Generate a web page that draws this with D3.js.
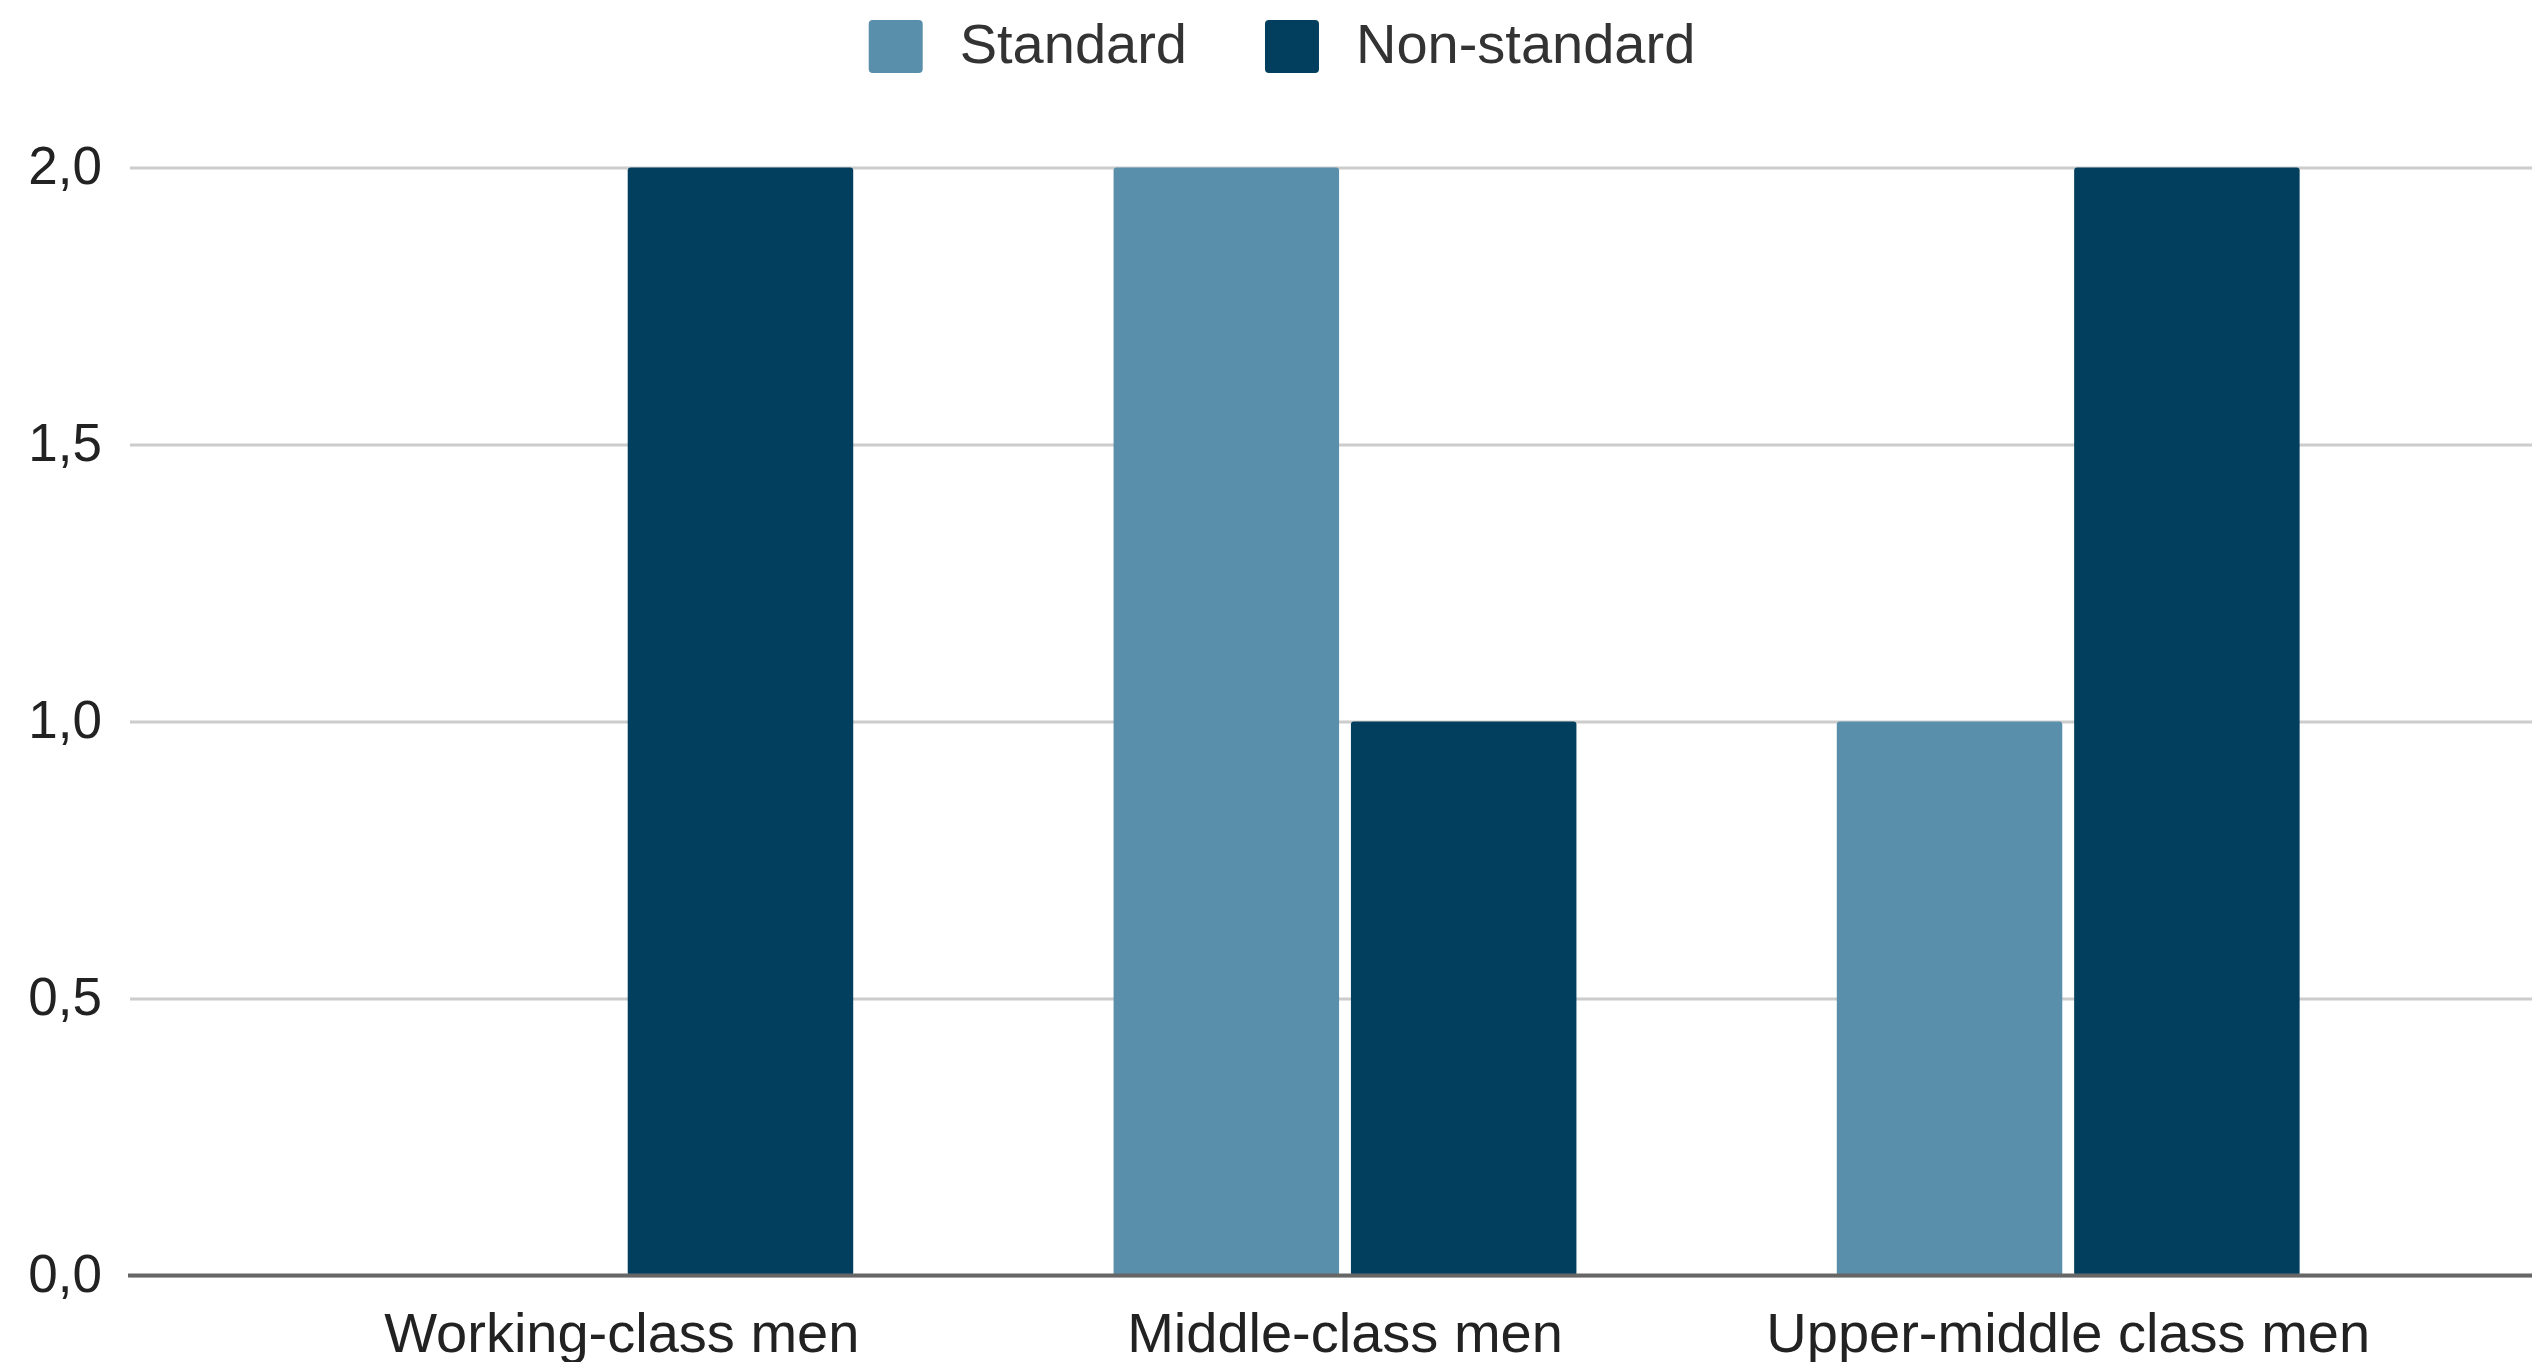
<!DOCTYPE html>
<html>
<head>
<meta charset="utf-8">
<script src="https://cdn.jsdelivr.net/npm/d3@7"></script>
<style>
  html, body { margin: 0; padding: 0; background: #ffffff; }
  svg { display: block; }
  text { font-family: "Liberation Sans", Arial, sans-serif; }
</style>
</head>
<body>
<svg id="chart" width="2532" height="1362"></svg>
<script>
// Social class groups on the x axis
const categories = ["Working-class men", "Middle-class men", "Upper-middle class men"];
// Series names and colours
const seriesNames = ["Standard", "Non-standard"];
const seriesColors = ["#5a8fac", "#023f5e"];
// Counts per group
const standardValues = [0, 2, 1];
const nonStandardValues = [2, 1, 2];
// Y axis ticks
const yTicks = [0, 0.5, 1.0, 1.5, 2.0];

const W = 2532, H = 1362;
const margin = { left: 130, right: -28, top: 167.5, bottom: 86 };

const svg = d3.select("#chart");
svg.append("rect").attr("width", W).attr("height", H).attr("fill", "#ffffff");

const rows = categories.map((c, i) => ({
  category: c,
  values: [
    { series: seriesNames[0], value: standardValues[i] },
    { series: seriesNames[1], value: nonStandardValues[i] }
  ]
}));

const x0 = d3.scaleBand()
  .domain(categories)
  .range([margin.left, W - margin.right])
  .padding(0.36);

const x1 = d3.scaleBand()
  .domain(seriesNames)
  .range([0, x0.bandwidth()])
  .paddingInner(0.05)
  .paddingOuter(0);

const y = d3.scaleLinear()
  .domain([0, 2])
  .range([H - margin.bottom - 0.5, margin.top]);

const color = d3.scaleOrdinal().domain(seriesNames).range(seriesColors);

// Horizontal gridlines
const yAxis = d3.axisLeft(y)
  .tickValues(yTicks)
  .tickSize(-(W - margin.left))
  .tickPadding(28)
  .tickFormat(d => d3.format(".1f")(d).replace(".", ","));

const gy = svg.append("g")
  .attr("transform", `translate(${margin.left},0)`)
  .call(yAxis);
gy.select(".domain").remove();
gy.selectAll(".tick line")
  .attr("stroke", "#cccccc")
  .attr("stroke-width", 3);
gy.selectAll(".tick text")
  .attr("fill", "#222222")
  .attr("font-size", 53)
  .attr("dy", "0.30em");

// Bars
const groups = svg.append("g")
  .selectAll("g")
  .data(rows)
  .join("g")
  .attr("transform", d => `translate(${x0(d.category)},0)`);

groups.selectAll("rect")
  .data(d => d.values.filter(v => v.value > 0))
  .join("rect")
  .attr("x", d => x1(d.series))
  .attr("y", d => y(d.value))
  .attr("width", x1.bandwidth())
  .attr("height", d => y(0) - y(d.value))
  .attr("rx", 3)
  .attr("fill", d => color(d.series));

// Baseline
svg.append("line")
  .attr("x1", margin.left - 2)
  .attr("x2", W)
  .attr("y1", y(0))
  .attr("y2", y(0))
  .attr("stroke", "#666666")
  .attr("stroke-width", 4);

// Category labels
const xAxis = d3.axisBottom(x0).tickSize(0).tickPadding(0);
const gx = svg.append("g")
  .attr("transform", `translate(0,${y(0)})`)
  .call(xAxis);
gx.select(".domain").remove();
gx.selectAll(".tick text")
  .attr("fill", "#222222")
  .attr("font-size", 56)
  .attr("y", 76)
  .attr("dy", 0);

// Legend
const legend = svg.append("g");
const items = legend.selectAll("g")
  .data(seriesNames)
  .join("g");
items.append("rect")
  .attr("width", 54)
  .attr("height", 53)
  .attr("y", 20)
  .attr("rx", 4)
  .attr("fill", d => color(d));
items.append("text")
  .attr("x", 91)
  .attr("y", 63)
  .attr("font-size", 56)
  .attr("fill", "#333333")
  .text(d => d);

let offset = 0;
const widths = [];
items.each(function () {
  const tw = d3.select(this).select("text").node().getComputedTextLength();
  widths.push(91 + tw);
});
const gap = 78;
const total = d3.sum(widths) + gap * (widths.length - 1);
let start = 1282 - total / 2;
items.attr("transform", (d, i) => {
  const t = `translate(${start},0)`;
  start += widths[i] + gap;
  return t;
});
</script>
</body>
</html>
